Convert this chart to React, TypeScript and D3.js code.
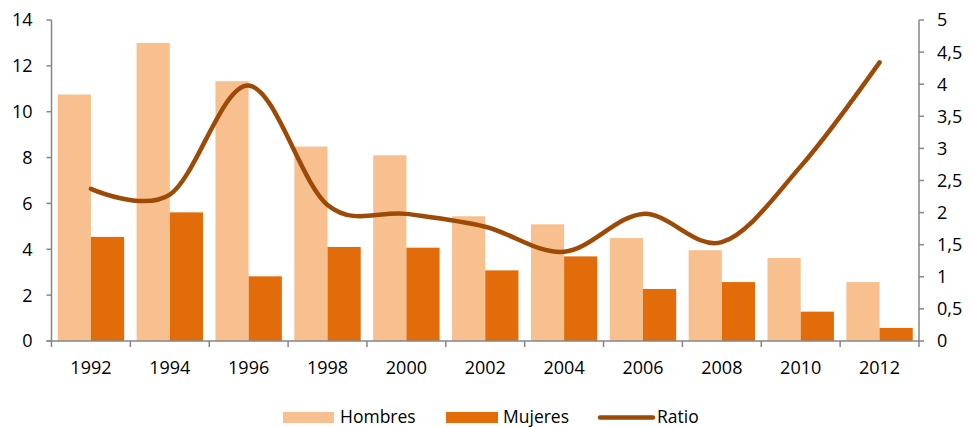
import React from "react";
import * as d3 from "d3";

const years = ["1992", "1994", "1996", "1998", "2000", "2002", "2004", "2006", "2008", "2010", "2012"];
const hombres = [10.75, 13.0, 11.33, 8.48, 8.1, 5.44, 5.09, 4.49, 3.96, 3.62, 2.57];
const mujeres = [4.54, 5.61, 2.82, 4.1, 4.07, 3.08, 3.69, 2.27, 2.57, 1.28, 0.57];
const ratio = [2.37, 2.28, 3.98, 2.12, 1.98, 1.78, 1.39, 1.98, 1.54, 2.72, 4.34];
const leftTicks = [0, 2, 4, 6, 8, 10, 12, 14];
const rightTicks = [0, 0.5, 1, 1.5, 2, 2.5, 3, 3.5, 4, 4.5, 5];

const W = 971;
const H = 427;
const M = { left: 51.5, right: 52, top: 20, bottom: 86 };
const FONT = "'Open Sans', 'Noto Sans', sans-serif";
const AXIS = "#868686";
const C_H = "#F9C08F";
const C_M = "#E36C0A";
const C_R = "#9C4A06";

export default function App() {
  const x0 = M.left;
  const x1 = W - M.right;
  const y0 = H - M.bottom;
  const yTop = M.top;

  const x = d3.scaleBand<string>().domain(years).range([x0, x1]).paddingInner(0.158).paddingOuter(0.079);
  const band = d3.scaleBand<string>().domain(years).range([x0, x1]);
  const yL = d3.scaleLinear().domain([0, 14]).range([y0, yTop]);
  const yR = d3.scaleLinear().domain([0, 5]).range([y0, yTop]);
  const bw = x.bandwidth() / 2;

  const line = d3
    .line<number>()
    .x((_, i) => (band(years[i]) as number) + band.bandwidth() / 2)
    .y((d) => yR(d))
    .curve(d3.curveCatmullRom.alpha(0));

  const fmt = (v: number) => String(v).replace(".", ",");

  return (
    <svg width={W} height={H} style={{ position: "absolute", left: 0, top: 0, fontFamily: FONT }}>
      <rect width={W} height={H} fill="#fff" />
      {/* bars */}
      {years.map((yr, i) => (
        <g key={yr}>
          <rect x={x(yr)} y={yL(hombres[i])} width={bw} height={y0 - yL(hombres[i])} fill={C_H} />
          <rect x={(x(yr) as number) + bw} y={yL(mujeres[i])} width={bw} height={y0 - yL(mujeres[i])} fill={C_M} />
        </g>
      ))}
      {/* left axis */}
      <line x1={x0} x2={x0} y1={yTop} y2={y0} stroke={AXIS} strokeWidth={1.5} />
      {leftTicks.map((t) => (
        <g key={"l" + t}>
          <line x1={x0 - 5} x2={x0} y1={yL(t)} y2={yL(t)} stroke={AXIS} strokeWidth={1.5} />
          <text x={x0 - 19} y={yL(t)} dy="0.36em" textAnchor="end" fontSize={18} fill="#000">
            {t}
          </text>
        </g>
      ))}
      {/* right axis */}
      <line x1={x1} x2={x1} y1={yTop} y2={y0} stroke={AXIS} strokeWidth={1.5} />
      {rightTicks.map((t) => (
        <g key={"r" + t}>
          <line x1={x1} x2={x1 + 5} y1={yR(t)} y2={yR(t)} stroke={AXIS} strokeWidth={1.5} />
          <text x={x1 + 18} y={yR(t)} dy="0.36em" textAnchor="start" fontSize={18} fill="#000">
            {fmt(t)}
          </text>
        </g>
      ))}
      {/* category axis */}
      <line x1={x0 - 5} x2={x1} y1={y0} y2={y0} stroke={AXIS} strokeWidth={1.5} />
      {years.map((yr) => (
        <line key={"t" + yr} x1={band(yr)} x2={band(yr)} y1={y0} y2={y0 + 6} stroke={AXIS} strokeWidth={1.5} />
      ))}
      <line x1={x1} x2={x1} y1={y0} y2={y0 + 6} stroke={AXIS} strokeWidth={1.5} />
      {years.map((yr) => (
        <text
          key={"x" + yr}
          x={(band(yr) as number) + band.bandwidth() / 2}
          y={y0 + 33}
          textAnchor="middle"
          fontSize={18}
          fill="#000"
        >
          {yr}
        </text>
      ))}
      {/* ratio line */}
      <path d={line(ratio) || ""} fill="none" stroke={C_R} strokeWidth={4.5} strokeLinecap="round" />
      {/* legend */}
      <rect x={283} y={412} width={51} height={11} fill={C_H} />
      <text x={340} y={423} fontSize={17.5} fill="#000">Hombres</text>
      <rect x={446} y={412} width={52} height={11} fill={C_M} />
      <text x={503} y={423} fontSize={17.5} fill="#000">Mujeres</text>
      <line x1={600} x2={653} y1={417.5} y2={417.5} stroke={C_R} strokeWidth={4.5} strokeLinecap="round" />
      <text x={657} y={423} fontSize={17.5} fill="#000">Ratio</text>
    </svg>
  );
}
